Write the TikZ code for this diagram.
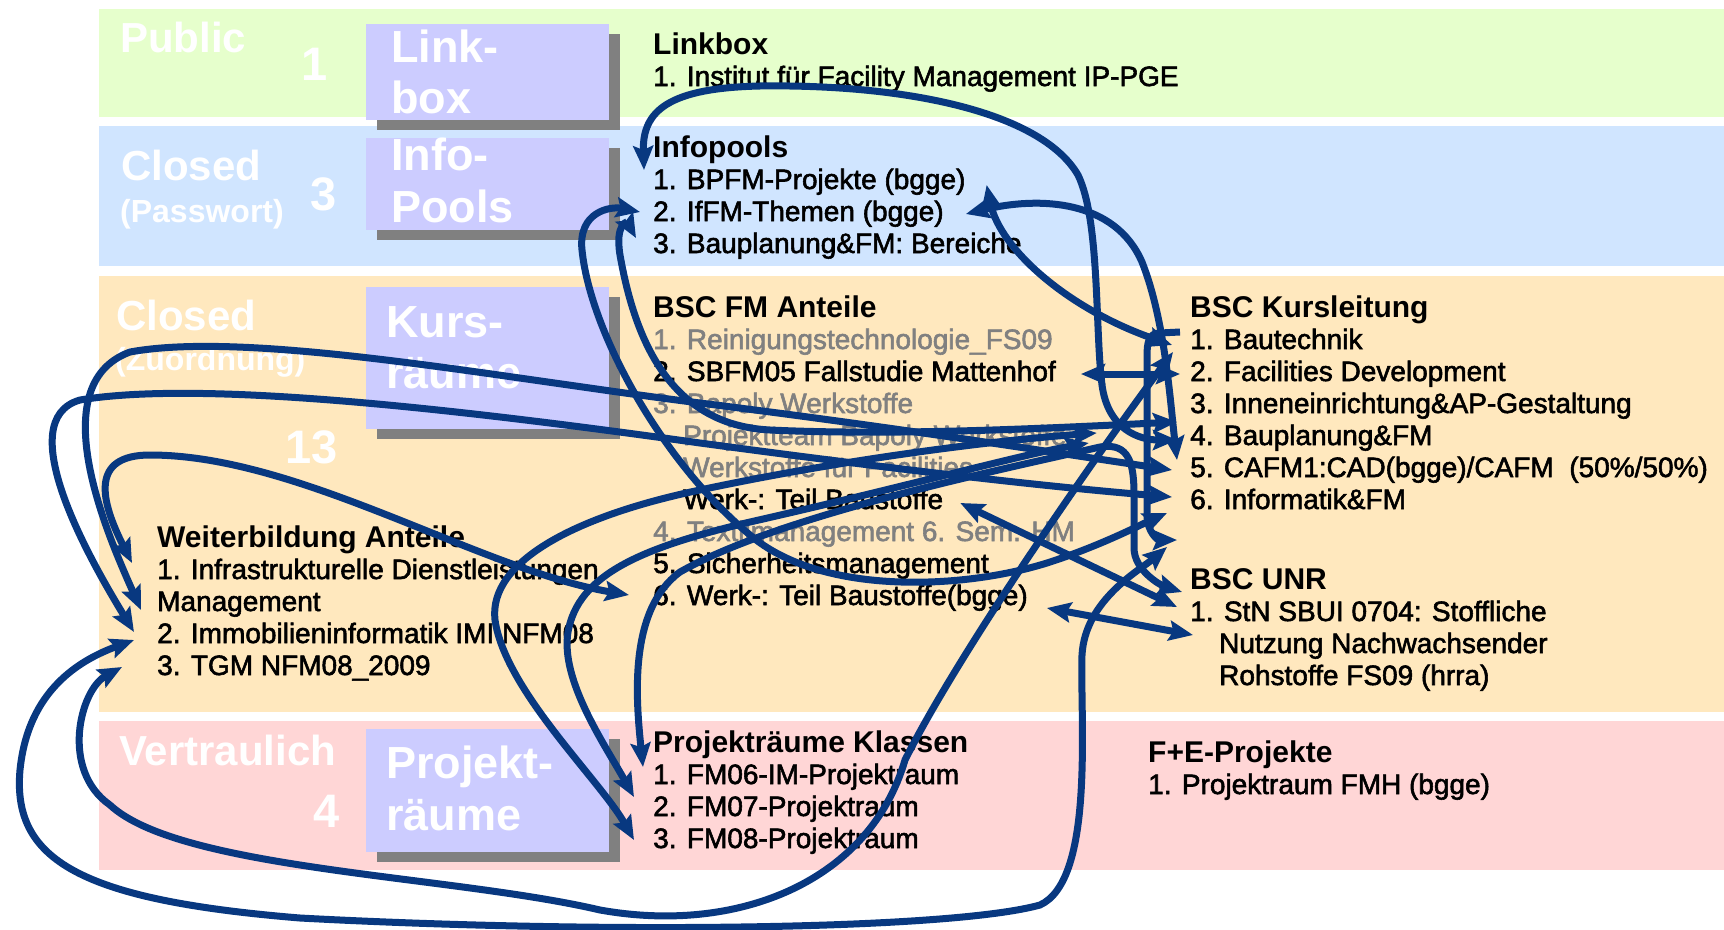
\documentclass[tikz,border=0pt]{standalone}
\usepackage{fontspec}
\setmainfont{Liberation Sans}
\newfontfamily\entryfont[FakeBold=2]{Liberation Sans}
\usetikzlibrary{arrows.meta}

\definecolor{zonegreen}{RGB}{230,255,204}
\definecolor{zoneblue}{RGB}{208,229,255}
\definecolor{zoneorange}{RGB}{255,232,190}
\definecolor{zonepink}{RGB}{255,214,214}
\definecolor{boxviolet}{RGB}{204,204,255}
\definecolor{boxshade}{RGB}{128,128,128}
\definecolor{linkblue}{RGB}{8,56,128}
\definecolor{grayentry}{RGB}{128,128,128}

\newcommand{\roomBox}[4]
{
    \fill[boxshade] (#1+11,#2+10) rectangle (#3+11,#4+10);
    \fill[boxviolet] (#1,#2) rectangle (#3,#4);
}

\tikzset{
    navytip/.tip={Stealth[length=24pt,width=20pt,inset=4pt]},
    conn/.style={draw=linkblue, line width=7pt},
    twoway/.style={conn, navytip-navytip},
    oneway/.style={conn, -navytip},
    zonelabel/.style={anchor=base west, inner sep=0pt, text=white,
        font=\bfseries\fontsize{42pt}{42pt}\selectfont},
    zonesub/.style={zonelabel, font=\bfseries\fontsize{32pt}{32pt}\selectfont},
    zonenum/.style={anchor=base east, inner sep=0pt, text=white,
        font=\bfseries\fontsize{47pt}{47pt}\selectfont},
    boxlabel/.style={anchor=base west, inner sep=0pt, text=white,
        font=\bfseries\fontsize{45pt}{45pt}\selectfont},
    entry/.style={anchor=base west, inner sep=0pt, text height=20pt, text depth=6pt,
        font=\entryfont\fontsize{28pt}{32pt}\selectfont},
    entrygray/.style={entry, text=grayentry},
    heading/.style={entry, font=\bfseries\fontsize{30pt}{32pt}\selectfont}
}

\begin{document}
\begin{tikzpicture}[x=1pt,y=-1pt]

    \useasboundingbox (0,0) rectangle (1724,929);

    %draws zones:
    \fill[zonegreen] (99,9) rectangle (1724,117);
    \fill[zoneblue] (99,126) rectangle (1724,266);
    \fill[zoneorange] (99,276) rectangle (1724,712);
    \fill[zonepink] (99,721) rectangle (1724,870);

    %draws room boxes with shadow
    \roomBox{366}{24}{609}{120}
    \roomBox{366}{138}{609}{230}
    \roomBox{366}{287}{609}{429}
    \roomBox{366}{729}{609}{852}

    %zone labels
    \node[zonelabel] (lPublic) at (120,52) {Public};
    \node[zonenum] (lOne) at (328,80) {1};
    \node[zonelabel] (lClosedA) at (121,180) {Closed};
    \node[zonesub] (lPass) at (120,222) {(Passwort)};
    \node[zonenum] (lThree) at (337,210) {3};
    \node[zonelabel] (lClosedB) at (116,330) {Closed};
    \node[zonesub] (lZuord) at (115,370) {(Zuordnung)};
    \node[zonenum] (lThirteen) at (338,463) {13};
    \node[zonelabel] (lVertr) at (119,765) {Vertraulich};
    \node[zonenum] (lFour) at (340,827) {4};

    %box labels
    \node[boxlabel] (bLinkA) at (391,62) {Link-};
    \node[boxlabel] (bLinkB) at (391,113) {box};
    \node[boxlabel] (bInfoA) at (391,170) {Info-};
    \node[boxlabel] (bInfoB) at (391,222) {Pools};
    \node[boxlabel] (bKursA) at (386,337) {Kurs-};
    \node[boxlabel] (bKursB) at (386,388) {räume};
    \node[boxlabel] (bProjA) at (386,778) {Projekt-};
    \node[boxlabel] (bProjB) at (386,830) {räume};

    %Linkbox and Infopools
    \node[heading] (lbh) at (653,54) {Linkbox};
    \node[entry] (lb1) at (653,86) {1. Institut für Facility Management IP-PGE};
    \node[heading] (iph) at (653,157) {Infopools};
    \node[entry] (ip1) at (653,189) {1. BPFM-Projekte (bgge)};
    \node[entry] (ip2) at (653,221) {2. IfFM-Themen (bgge)};
    \node[entry] (ip3) at (653,253) {3. Bauplanung\&FM: Bereiche};

    %BSC FM Anteile
    \node[heading] (fmh) at (653,317) {BSC FM Anteile};
    \node[entrygray] (fm1) at (653,349) {1. Reinigungstechnologie\_FS09};
    \node[entry] (fm2) at (653,381) {2. SBFM05 Fallstudie Mattenhof};
    \node[entrygray] (fm3) at (653,413) {3. Bapoly Werkstoffe};
    \node[entrygray] (fm3b) at (683,445) {Projektteam Bapoly Werkstoffe};
    \node[entrygray] (fm3c) at (683,477) {Werkstoffe für Facilities};
    \node[entry] (fm3d) at (683,509) {Werk-: Teil Baustoffe};
    \node[entrygray] (fm4) at (653,541) {4. Textilmanagement 6. Sem. HM};
    \node[entry] (fm5) at (653,573) {5. Sicherheitsmanagement};
    \node[entry] (fm6) at (653,605) {6. Werk-: Teil Baustoffe(bgge)};

    %BSC Kursleitung and BSC UNR
    \node[heading] (klh) at (1190,317) {BSC Kursleitung};
    \node[entry] (kl1) at (1190,349) {1. Bautechnik};
    \node[entry] (kl2) at (1190,381) {2. Facilities Development};
    \node[entry] (kl3) at (1190,413) {3. Inneneinrichtung\&AP-Gestaltung};
    \node[entry] (kl4) at (1190,445) {4. Bauplanung\&FM};
    \node[entry] (kl5) at (1190,477) {5. CAFM1:CAD(bgge)/CAFM~~(50\%/50\%)};
    \node[entry] (kl6) at (1190,509) {6. Informatik\&FM};
    \node[heading] (unrh) at (1190,589) {BSC UNR};
    \node[entry] (unr1) at (1190,621) {1. StN SBUI 0704: Stoffliche};
    \node[entry] (unr2) at (1219,653) {Nutzung Nachwachsender};
    \node[entry] (unr3) at (1219,685) {Rohstoffe FS09 (hrra)};

    %Weiterbildung
    \node[heading] (wbh) at (157,547) {Weiterbildung Anteile};
    \node[entry] (wb1) at (157,579) {1. Infrastrukturelle Dienstleistungen};
    \node[entry] (wb1b) at (157,611) {Management};
    \node[entry] (wb2) at (157,643) {2. Immobilieninformatik IMI NFM08};
    \node[entry] (wb3) at (157,675) {3. TGM NFM08\_2009};

    %Projektraeume
    \node[heading] (pkh) at (653,752) {Projekträume Klassen};
    \node[entry] (pk1) at (653,784) {1. FM06-IM-Projektraum};
    \node[entry] (pk2) at (653,816) {2. FM07-Projektraum};
    \node[entry] (pk3) at (653,848) {3. FM08-Projektraum};
    \node[heading] (feh) at (1148,762) {F+E-Projekte};
    \node[entry] (fe1) at (1148,794) {1. Projektraum FMH (bgge)};

    %draws connectors from Infopools
    \draw[twoway] ([xshift=-9pt,yshift=12pt]ip1.west)
        .. controls (642,110) and (670,88) .. (760,86)
        .. controls (900,84) and (1040,110) .. (1078,175)
        .. controls (1100,220) and (1095,330) .. (1102,385)
        .. controls (1108,430) and (1140,440) .. ([xshift=-13pt,yshift=-2pt]kl4.west);
    \draw[twoway] ([xshift=21pt,yshift=-3pt]ip1.east)
        .. controls (1000,250) and (1070,310) .. ([xshift=-18pt,yshift=-3pt]kl1.west);
    \draw[twoway] ([xshift=22pt]ip2.east)
        .. controls (1040,196) and (1115,200) .. (1142,262)
        .. controls (1165,320) and (1170,400) .. ([xshift=-13pt,yshift=10pt]kl5.west);
    \draw[twoway] ([xshift=-13pt,yshift=2pt]ip2.west)
        .. controls (610,206) and (578,212) .. (582,250)
        .. controls (590,330) and (660,460) .. (750,535)
        .. controls (820,595) and (960,590) .. (1047,563)
        .. controls (1100,546) and (1140,525) .. ([xshift=-23pt,yshift=-11pt]kl6.west);
    \draw[twoway] ([xshift=-17pt,yshift=8pt]ip3.west)
        .. controls (627,222) and (615,224) .. (620,255)
        .. controls (635,340) and (670,425) .. (770,430)
        .. controls (900,436) and (1050,428) .. ([xshift=-13pt,yshift=16pt]kl4.west);

    %draws connectors of Kursleitung
    \draw[oneway] ([xshift=-10pt,yshift=10pt]kl1.west) -- (1160,333)
        .. controls (1149,333) and (1147,342) .. (1147,356) -- (1147,515)
        .. controls (1147,532) and (1158,540) .. ([xshift=-13pt,yshift=-38pt]kl6.west);
    \draw[twoway] ([xshift=25pt]fm2.east) -- ([xshift=-10pt]kl2.west);
    \draw[twoway] ([xshift=17pt,yshift=-1pt]fm3d.east) -- ([xshift=-13pt,yshift=7pt]unr1.west);
    \draw[twoway] ([xshift=19pt,yshift=-10pt]fm6.east) -- ([xshift=3pt,yshift=-21pt]unr1.west);

    %draws loops of Weiterbildung
    \draw[twoway] ([xshift=-25pt,yshift=9pt]wb1.west)
        .. controls (100,500) and (90,455) .. (150,455)
        .. controls (300,455) and (480,570) .. ([xshift=-24pt,yshift=3pt]fm6.west);
    \draw[twoway] ([xshift=-16pt,yshift=-6pt]wb1b.west)
        .. controls (110,540) and (40,385) .. (130,352)
        .. controls (250,330) and (500,378) .. (700,403)
        .. controls (900,428) and (1050,452) .. ([xshift=-18pt]kl5.west);
    \draw[twoway] ([xshift=-23pt,yshift=4pt]wb2.west)
        .. controls (90,560) and (10,420) .. (80,400)
        .. controls (200,380) and (450,408) .. (700,443)
        .. controls (900,470) and (1050,487) .. ([xshift=-18pt,yshift=5pt]kl6.west);
    \draw[twoway] ([xshift=-23pt,yshift=-4pt]wb2.west)
        .. controls (80,660) and (28,690) .. (20,770)
        .. controls (12,860) and (80,900) .. (300,918)
        .. controls (600,934) and (950,930) .. (1040,905)
        .. controls (1095,880) and (1080,720) .. (1082,655)
        .. controls (1085,600) and (1140,570) .. ([xshift=-23pt,yshift=-45pt]kl6.west);
    \draw[twoway] ([xshift=-35pt,yshift=1pt]wb3.west)
        .. controls (80,690) and (60,770) .. (110,805)
        .. controls (180,870) and (450,875) .. (600,910)
        .. controls (740,935) and (870,880) .. (905,760)
        .. controls (960,650) and (1100,450) .. ([xshift=-17pt,yshift=-10pt]kl1.west);

    %draws connectors of Projektraeume
    \draw[twoway] ([xshift=-19pt,yshift=1pt]pk3.west)
        .. controls (600,780) and (505,690) .. (495,620)
        .. controls (488,560) and (580,515) .. (700,490)
        .. controls (850,458) and (1000,440) .. ([xshift=30pt,yshift=5pt]fm3b.east);
    \draw[twoway] ([xshift=-19pt,yshift=12pt]pk2.west)
        .. controls (605,745) and (560,680) .. (568,632)
        .. controls (578,575) and (640,548) .. (750,522)
        .. controls (900,488) and (1020,455) .. ([xshift=22pt,yshift=-5pt]fm3b.east);
    \draw[twoway] ([xshift=-10pt,yshift=10pt]pk1.west)
        .. controls (636,700) and (628,610) .. (680,572)
        .. controls (780,515) and (1000,470) .. (1100,447)
        .. controls (1130,442) and (1134,465) .. (1134,495) -- (1134,548)
        .. controls (1134,570) and (1160,585) .. ([xshift=-8pt,yshift=-10pt]unrh.west);

\end{tikzpicture}
\end{document}
